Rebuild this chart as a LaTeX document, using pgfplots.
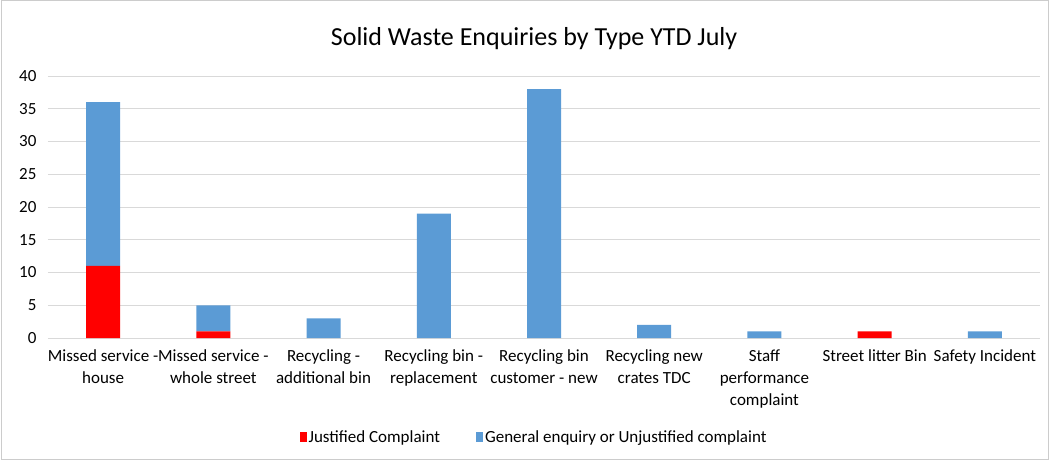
\documentclass[border=0pt]{standalone}
\usepackage{pgfplots}
\pgfplotsset{compat=1.18}
\usepackage{fontspec}
\setmainfont{Carlito}
\definecolor{justred}{RGB}{255,0,0}
\definecolor{genblue}{RGB}{91,155,213}

\begin{document}
\begin{tikzpicture}
\begin{axis}[name=ax, at={(0,0)}, anchor=south west,
  scale only axis, width=992pt, height=262pt,
  ybar stacked, bar width=34pt,
  xmin=-0.5, xmax=8.5, ymin=0, ymax=40,
  ytick={0,5,...,40},
  xtick={0,...,8},
  xticklabels={{Missed service -\\house}, {Missed service -\\whole street}, {Recycling -\\additional bin}, {Recycling bin -\\replacement}, {Recycling bin\\customer - new}, {Recycling new\\crates TDC}, {Staff\\performance\\complaint}, {Street litter Bin}, {Safety Incident}},
  xticklabel style={align=center, font=\fontsize{17}{22}\selectfont, yshift=-8pt},
  yticklabel style={font=\fontsize{17}{20}\selectfont, xshift=-8pt},
  /pgf/number format/assume math mode=true,
  major tick length=0pt,
  ymajorgrids, major grid style={draw=black!15, line width=0.8pt},
  axis line style={draw=none},
  x axis line style={draw=black!15},
  axis lines*=left,
  title={Solid Waste Enquiries by Type YTD July},
  title style={font=\fontsize{26}{30}\selectfont, anchor=center, at={(0.49,1.12)}},
  legend style={draw=none, at={(0.49,-0.378)}, anchor=center, legend columns=2,
    font=\fontsize{17}{20}\selectfont, /tikz/every even column/.append style={column sep=34pt}},
  legend image code/.code={\fill[#1] (0pt,-5pt) rectangle (7pt,5pt);},
]
\addplot[fill=justred, draw=none] coordinates {(0,11) (1,1) (2,0) (3,0) (4,0) (5,0) (6,0) (7,1) (8,0)};
\addlegendentry{Justified Complaint}
\addplot[fill=genblue, draw=none] coordinates {(0,25) (1,4) (2,3) (3,19) (4,38) (5,2) (6,1) (7,0) (8,1)};
\addlegendentry{General enquiry or Unjustified complaint}
\end{axis}
\draw[black!20, line width=0.8pt] ([shift={(-46.5pt,-121.5pt)}]ax.south west) rectangle ([shift={(-46.5pt+1047pt,337.5pt)}]ax.south west);
\pgfresetboundingbox
\useasboundingbox ([shift={(-48pt,-123pt)}]ax.south west) rectangle ([shift={(1001pt,338pt)}]ax.south west);
\end{tikzpicture}
\end{document}
